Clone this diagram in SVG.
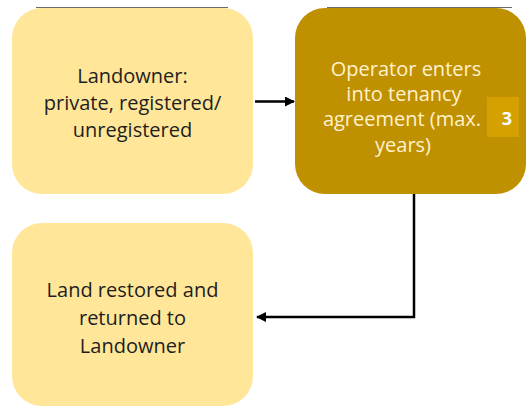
<svg xmlns="http://www.w3.org/2000/svg" width="527" height="407" viewBox="0 0 527 407">
  <style>
    .light { fill: #FFE699; }
    .dark { fill: #BF9000; }
    .lbl { font-family: "Open Sans", "Noto Sans", sans-serif; font-size: 20px; text-anchor: middle; }
    .ink { fill: #1e1e1e; }
    .pale { fill: #FFF2CC; }
    .edge { fill: none; stroke: #000; stroke-width: 2.5; }
    .rim { stroke: #6a6a6a; stroke-width: 1.2; }
  </style>
  <defs>
    <marker id="arrow" viewBox="0 0 10 10" refX="9" refY="5" markerWidth="4" markerHeight="4" orient="auto" markerUnits="strokeWidth">
      <path d="M0,0 L10,5 L0,10 z" fill="#000"/>
    </marker>
  </defs>
  <rect width="527" height="407" fill="#fff"/>

  <g id="landowner">
    <line class="rim" x1="36" y1="7.5" x2="228" y2="7.5"/>
    <rect class="light" x="12" y="8" width="241" height="186" rx="30" ry="30"/>
    <text class="lbl ink" x="132.5" y="83">Landowner:</text>
    <text class="lbl ink" x="132.5" y="110">private, registered/</text>
    <text class="lbl ink" x="132.5" y="137">unregistered</text>
  </g>

  <g id="tenancy">
    <line class="rim" x1="327" y1="7.5" x2="512" y2="7.5"/>
    <rect class="dark" x="295" y="8" width="231" height="186" rx="30" ry="30"/>
    <text class="lbl pale" x="406" y="76">Operator enters</text>
    <text class="lbl pale" x="404" y="101">into tenancy</text>
    <text class="lbl pale" x="402" y="126">agreement (max.</text>
    <text class="lbl pale" x="403" y="152">years)</text>
    <rect x="487" y="97" width="32" height="40" fill="#D4A100"/>
    <text x="507" y="125" font-family="'Open Sans', 'Noto Sans', sans-serif" font-size="18" font-weight="bold" fill="#fff" text-anchor="middle">3</text>
  </g>

  <g id="restored">
    <rect class="light" x="12" y="223" width="241" height="183" rx="30" ry="30"/>
    <text class="lbl ink" x="132.5" y="297">Land restored and</text>
    <text class="lbl ink" x="132.5" y="325">returned to</text>
    <text class="lbl ink" x="132.5" y="353">Landowner</text>
  </g>

  <g id="connectors">
    <line class="edge" x1="255" y1="101.5" x2="294" y2="101.5" marker-end="url(#arrow)"/>
    <polyline class="edge" points="414,194 414,317 257,317" marker-end="url(#arrow)"/>
  </g>
</svg>
